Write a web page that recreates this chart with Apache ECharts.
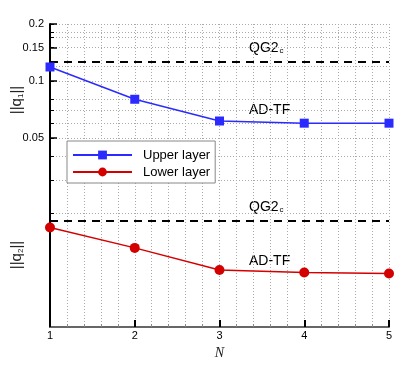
<!DOCTYPE html>
<html>
<head>
<meta charset="utf-8">
<script src="https://cdn.jsdelivr.net/npm/echarts@6/dist/echarts.min.js"></script>
<style>
  html, body { margin: 0; padding: 0; background: #fff; }
  #chart { width: 415px; height: 369px; }
</style>
</head>
<body>
<div id="chart"></div>
<script>
// values
const N = [1, 2, 3, 4, 5];
const upperLayer = [0.1185, 0.0800, 0.0614, 0.0598, 0.0598];
const lowerLayer = [0.0168, 0.0131, 0.0100, 0.0097, 0.0096];
const qg2Upper = 0.126;
const qg2Lower = 0.0182;
const yLabelValues = [0.05, 0.1, 0.15, 0.2];
const yGridValues = [0.02, 0.03, 0.04, 0.05, 0.06, 0.07, 0.08, 0.1, 0.12, 0.15, 0.17, 0.18, 0.2];

const font = "'Liberation Sans', Arial, sans-serif";
const chart = echarts.init(document.getElementById("chart"));

const pairs = (ys) => N.map((n, i) => [n, ys[i]]);

const dashed = { type: [8, 6], color: "#000", width: 2 };

chart.setOption({
    animation: false,
    backgroundColor: "#fff",
    grid: { left: 50, right: 26, top: 24, bottom: 42 },
    legend: {
        orient: "vertical",
        left: 67,
        top: 141,
        itemWidth: 59,
        itemHeight: 11,
        itemGap: 3,
        padding: [7, 5, 4, 5],
        borderColor: "#888",
        borderWidth: 1,
        borderRadius: 0,
        backgroundColor: "#fff",
        textStyle: { fontFamily: font, fontSize: 13, color: "#000", lineHeight: 14, padding: [0, 0, 0, 6] },
        data: ["Upper layer", "Lower layer"],
    },
    xAxis: {
        type: "value",
        min: 1,
        max: 5,
        interval: 1,
        name: "N",
        nameLocation: "middle",
        nameGap: 11,
        nameTextStyle: { fontFamily: "'Liberation Serif', 'DejaVu Serif', serif", fontStyle: "italic", fontSize: 14, color: "#222" },
        axisLine: { lineStyle: { color: "#666", width: 2 } },
        axisTick: { inside: true, length: 7, lineStyle: { color: "#000", width: 2 } },
        minorTick: { show: true, splitNumber: 5, length: 3, lineStyle: { color: "#888", width: 1 } },
        axisLabel: { margin: 3, fontFamily: font, fontSize: 11, color: "#000" },
        splitLine: { show: true, lineStyle: { type: [1, 2], color: "#aaa" } },
        minorSplitLine: { show: true, lineStyle: { type: [1, 2], color: "#aaa" } },
    },
    yAxis: [
        {
            type: "log",
            min: 0.005,
            max: 0.2,
            position: "left",
            axisLine: { show: true, lineStyle: { color: "#000", width: 2 } },
            axisTick: { inside: true, length: 7, customValues: yLabelValues, lineStyle: { color: "#000", width: 1.5 } },
            axisLabel: {
                customValues: yLabelValues,
                margin: 6,
                fontFamily: font,
                fontSize: 11,
                color: "#000",
                formatter: (v) => String(+v.toFixed(2)),
            },
            splitLine: { show: false },
        },
        {
            type: "log",
            min: 0.005,
            max: 0.2,
            position: "left",
            offset: 0,
            axisLine: { show: false },
            axisTick: { show: true, inside: true, length: 4, customValues: yGridValues, lineStyle: { color: "#000", width: 1 } },
            axisLabel: { show: false, customValues: yGridValues },
            splitLine: { show: true, lineStyle: { type: [1, 2], color: "#aaa" } },
        },
    ],
    series: [
        {
            name: "Upper layer",
            type: "line",
            yAxisIndex: 0,
            data: pairs(upperLayer),
            symbol: "rect",
            symbolSize: 9,
            color: "#2b2bff",
            lineStyle: { width: 1.5, color: "#2b2bff" },
            itemStyle: { color: "#2b2bff" },
            z: 5,
            markLine: {
                silent: true,
                symbol: "none",
                precision: 5,
                label: { show: false },
                lineStyle: dashed,
                data: [{ yAxis: qg2Upper }],
            },
        },
        {
            name: "Lower layer",
            type: "line",
            yAxisIndex: 0,
            data: pairs(lowerLayer),
            symbol: "circle",
            symbolSize: 10,
            color: "#d40000",
            lineStyle: { width: 1.5, color: "#d40000" },
            itemStyle: { color: "#d40000" },
            z: 5,
            markLine: {
                silent: true,
                symbol: "none",
                precision: 5,
                label: { show: false },
                lineStyle: dashed,
                data: [{ yAxis: qg2Lower }],
            },
        },
    ],
    graphic: [
        // axis titles
        {
            type: "text",
            x: 17, y: 100,
            rotation: Math.PI / 2,
            style: {
                text: "{m|||q}{s|1}{m|||}",
                align: "center",
                verticalAlign: "middle",
                fill: "#222",
                rich: {
                    m: { fontFamily: font, fontSize: 15, fill: "#222" },
                    s: { fontFamily: font, fontSize: 8, fill: "#222", verticalAlign: "bottom", padding: [6, 0, 0, 0] },
                },
            },
        },
        {
            type: "text",
            x: 17, y: 255,
            rotation: Math.PI / 2,
            style: {
                text: "{m|||q}{s|2}{m|||}",
                align: "center",
                verticalAlign: "middle",
                fill: "#222",
                rich: {
                    m: { fontFamily: font, fontSize: 15, fill: "#222" },
                    s: { fontFamily: font, fontSize: 8, fill: "#222", verticalAlign: "bottom", padding: [6, 0, 0, 0] },
                },
            },
        },
        // annotations
        {
            type: "text", left: 249, top: 41,
            style: {
                text: "{m|QG2}{s|c}",
                rich: {
                    m: { fontFamily: font, fontSize: 14, fill: "#000" },
                    s: { fontFamily: font, fontSize: 8, fill: "#000", verticalAlign: "bottom", padding: [6, 0, 0, 1] },
                },
            },
        },
        {
            type: "text", left: 249, top: 103,
            style: { text: "AD-TF", fontFamily: font, fontSize: 14, fill: "#000" },
        },
        {
            type: "text", left: 249, top: 200,
            style: {
                text: "{m|QG2}{s|c}",
                rich: {
                    m: { fontFamily: font, fontSize: 14, fill: "#000" },
                    s: { fontFamily: font, fontSize: 8, fill: "#000", verticalAlign: "bottom", padding: [6, 0, 0, 1] },
                },
            },
        },
        {
            type: "text", left: 249, top: 254,
            style: { text: "AD-TF", fontFamily: font, fontSize: 14, fill: "#000" },
        },
    ],
});
</script>
</body>
</html>
